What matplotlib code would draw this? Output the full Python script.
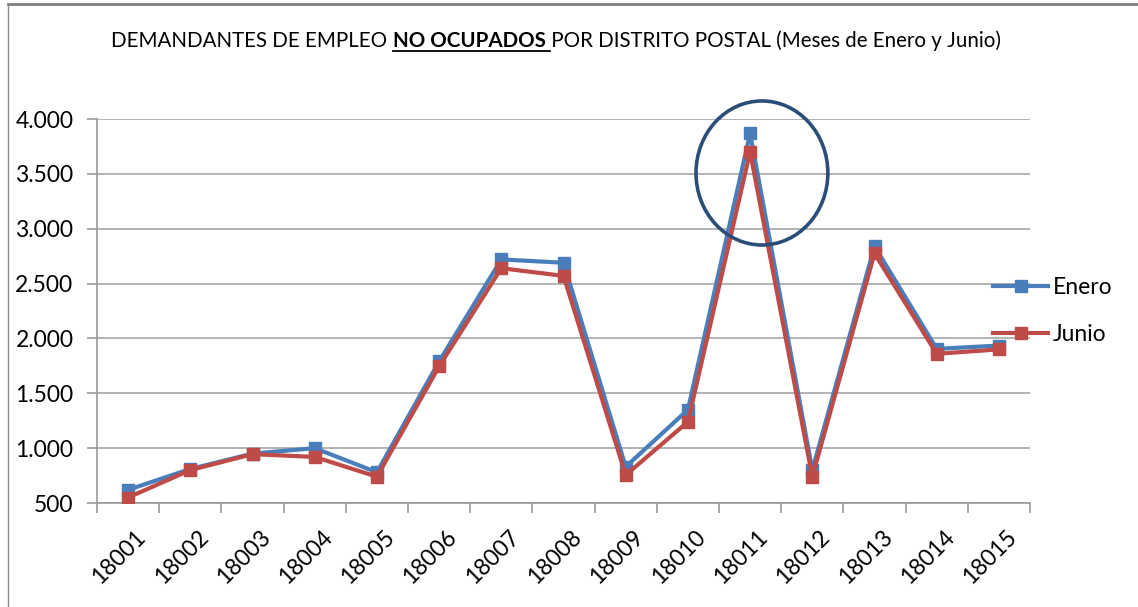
import matplotlib
matplotlib.use("Agg")
import matplotlib.pyplot as plt
import matplotlib.transforms as mtransforms
from matplotlib.patches import Ellipse
from matplotlib.lines import Line2D
from matplotlib.ticker import FuncFormatter

categories = ["18001", "18002", "18003", "18004", "18005", "18006", "18007", "18008",
              "18009", "18010", "18011", "18012", "18013", "18014", "18015"]
enero = [620, 810, 950, 1000, 780, 1790, 2720, 2690, 830, 1350, 3870, 800, 2840, 1905, 1935]
junio = [550, 800, 945, 920, 740, 1745, 2640, 2570, 755, 1240, 3700, 740, 2775, 1860, 1900]
yticks = [500, 1000, 1500, 2000, 2500, 3000, 3500, 4000]

FONT = "Lato"
plt.rcParams['font.family'] = [FONT, 'DejaVu Sans']

W, H = 1138, 607
fig = plt.figure(figsize=(W / 100, H / 100), dpi=100)
ax = fig.add_axes([97 / W, 1 - 503 / H, (1030 - 97) / W, (503 - 119) / H])

x = list(range(len(categories)))
blue = "#4A7EBB"
red = "#BE4B48"
ax.plot(x, enero, color=blue, lw=3, marker="s", ms=9, label="Enero", zorder=3)
ax.plot(x, junio, color=red, lw=3, marker="s", ms=9, label="Junio", zorder=4)

ax.set_xlim(-0.5, len(categories) - 0.5)
ax.set_ylim(500, 4000)
ax.set_yticks(yticks)
ax.yaxis.set_major_formatter(FuncFormatter(lambda v, p: f"{int(v):,}".replace(",", ".")))
ax.grid(axis="y", color="#A6A6A6", lw=1.2)
ax.set_axisbelow(True)
for s in ["top", "right"]:
    ax.spines[s].set_visible(False)
for s in ["left", "bottom"]:
    ax.spines[s].set_color("#9A9A9A")
    ax.spines[s].set_linewidth(1.2)

ax.set_xticks(x)
ax.set_xticklabels(categories, rotation=45, ha="right", rotation_mode="anchor")
ax.set_xticks([i + 0.5 for i in range(-1, len(categories))], minor=True)
ax.tick_params(axis="x", which="major", length=0, labelsize=16.5, pad=17)
ax.tick_params(axis="x", which="minor", length=7, color="#9A9A9A", width=1.2)
ax.tick_params(axis="y", length=7, color="#9A9A9A", width=1.2, labelsize=16.5, pad=10)
shift = mtransforms.ScaledTranslation(7 / 100, 0, fig.dpi_scale_trans)
for lab in ax.get_xticklabels():
    lab.set_transform(lab.get_transform() + shift)

# highlight circle around 18011
ell = Ellipse((10.19, 3508), width=2.12, height=1313, fill=False,
              edgecolor="#2B4E78", lw=2.6, clip_on=False, zorder=5)
ax.add_patch(ell)

# legend
leg = ax.legend(loc="center left", bbox_to_anchor=(984 / W, 1 - 311 / H),
                bbox_transform=fig.transFigure, frameon=False, fontsize=16.5,
                handlelength=2.4, labelspacing=1.12, handletextpad=0.2,
                borderaxespad=0)

# title with underlined bold part
ty = 1 - 47 / H
parts = [("DEMANDANTES DE EMPLEO ", "normal"), ("NO OCUPADOS", "bold"),
         (" POR DISTRITO POSTAL (Meses de Enero y Junio)", "normal")]
fig.canvas.draw()
r = fig.canvas.get_renderer()
texts = []
for s, wgt in parts:
    t = fig.text(0, ty, s, fontsize=14.8, fontweight=wgt, va="baseline", ha="left")
    texts.append(t)
widths = [t.get_window_extent(r).width for t in texts]
total = sum(widths)
start = 556 - total / 2
cur = start
for t, w, (s, wgt) in zip(texts, widths, parts):
    t.set_x(cur / W)
    if wgt == "bold":
        uy = 1 - 50.5 / H
        fig.add_artist(Line2D([cur / W, (cur + w + 4) / W], [uy, uy], color="black", lw=1.3,
                              transform=fig.transFigure))
    cur += w

# frame of chart area
fig.add_artist(Line2D([8 / W, 8 / W], [0, 1 - 4 / H], color="#8C8C8C", lw=1.0,
                      transform=fig.transFigure))
fig.add_artist(Line2D([8 / W, 1], [1 - 4 / H, 1 - 4 / H], color="#7F7F7F", lw=2.0,
                      transform=fig.transFigure))

fig.savefig("out.png", dpi=100)
